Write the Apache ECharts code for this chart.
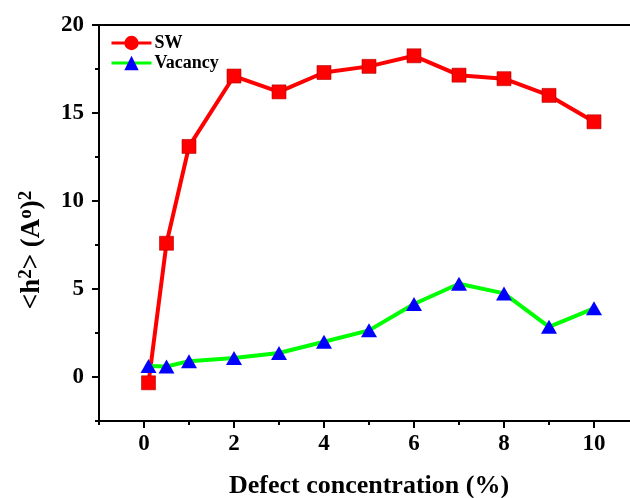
<!DOCTYPE html>
<html>
<head>
<meta charset="utf-8">
<script src="https://cdn.jsdelivr.net/npm/echarts@6/dist/echarts.min.js"></script>
<style>
  html, body { margin: 0; padding: 0; background: #ffffff; }
  #chart { width: 630px; height: 498px; }
</style>
</head>
<body>
<div id="chart"></div>
<script>
// Defect concentration (%) on the x axis
const concentration = [0.1, 0.5, 1, 2, 3, 4, 5, 6, 7, 8, 9, 10];
// Mean square height <h^2> for Stone-Wales defects
const swValues = [-0.33, 7.6, 13.1, 17.1, 16.2, 17.3, 17.65, 18.25, 17.15, 16.95, 16.0, 14.5];
// Mean square height <h^2> for vacancy defects
const vacancyValues = [0.62, 0.6, 0.9, 1.08, 1.36, 2.0, 2.65, 4.15, 5.3, 4.75, 2.85, 3.9];

// Tick positions
const xMajorTicks = [0, 2, 4, 6, 8, 10];
const xMinorTicks = [-1, 1, 3, 5, 7, 9];
const yMajorTicks = [0, 5, 10, 15, 20];
const yMinorTicks = [-2.5, 2.5, 7.5, 12.5, 17.5];

const serif = '"Liberation Serif", "Times New Roman", serif';

const chart = echarts.init(document.getElementById('chart'), null, { renderer: 'canvas' });

const axisBase = {
  type: 'value',
  gridIndex: 0,
  splitLine: { show: false },
  axisLine: { show: true, onZero: false, lineStyle: { color: '#000', width: 2 } }
};

const option = {
  backgroundColor: '#ffffff',
  animation: false,
  grid: { left: 99, right: -9, top: 25, bottom: 77, outerBoundsMode: 'none', containLabel: false },
  legend: {
    orient: 'vertical',
    left: 110,
    top: 34,
    padding: 0,
    itemWidth: 40,
    itemHeight: 18,
    itemGap: 2,
    lineStyle: { width: 3 },
    itemStyle: { borderWidth: 0 },
    textStyle: { fontFamily: serif, fontWeight: 'bold', fontSize: 18, color: '#000', padding: [0, 0, 0, -2] },
    data: ['SW', 'Vacancy']
  },
  xAxis: [
    Object.assign({}, axisBase, {
      position: 'bottom', min: -1, max: 11,
      axisTick: { show: true, customValues: xMajorTicks, length: 7, lineStyle: { color: '#000', width: 2 } },
      axisLabel: { customValues: xMajorTicks, margin: 12, fontFamily: serif, fontWeight: 'bold', fontSize: 23, color: '#000' },
      name: 'Defect concentration (%)',
      nameLocation: 'middle',
      nameGap: 52,
      nameTextStyle: { fontFamily: serif, fontWeight: 'bold', fontSize: 26, color: '#000' }
    }),
    Object.assign({}, axisBase, {
      position: 'bottom', min: -1, max: 11,
      axisLine: { show: false, onZero: false },
      axisTick: { show: true, customValues: xMinorTicks, length: 4, lineStyle: { color: '#000', width: 2 } },
      axisLabel: { show: false }
    }),
    Object.assign({}, axisBase, {
      position: 'top', min: -1, max: 11,
      axisTick: { show: false },
      axisLabel: { show: false }
    })
  ],
  yAxis: [
    Object.assign({}, axisBase, {
      position: 'left', min: -2.5, max: 20,
      axisTick: { show: true, customValues: yMajorTicks, length: 7, lineStyle: { color: '#000', width: 2 } },
      axisLabel: { customValues: yMajorTicks, margin: 15, fontFamily: serif, fontWeight: 'bold', fontSize: 23, color: '#000' }
    }),
    Object.assign({}, axisBase, {
      position: 'left', min: -2.5, max: 20,
      axisLine: { show: false, onZero: false },
      axisTick: { show: true, customValues: yMinorTicks, length: 4, lineStyle: { color: '#000', width: 2 } },
      axisLabel: { show: false }
    })
  ],
  graphic: [{
    type: 'text',
    x: 32,
    y: 250,
    rotation: Math.PI / 2,
    style: {
      text: '<h{sup|2}> (A{sup|o}){sup|2}',
      fontFamily: serif,
      fontWeight: 'bold',
      fontSize: 27,
      fill: '#000',
      align: 'center',
      verticalAlign: 'middle',
      rich: {
        sup: { fontFamily: serif, fontWeight: 'bold', fontSize: 19, fill: '#000', verticalAlign: 'top', padding: [0, 0, 12, 0] }
      }
    }
  }],
  series: [
    {
      name: 'SW',
      type: 'line',
      xAxisIndex: 0,
      yAxisIndex: 0,
      symbol: 'circle',
      symbolSize: 14,
      data: concentration.map((x, i) => ({ value: [x, swValues[i]], symbol: 'rect' })),
      lineStyle: { color: '#ff0000', width: 4 },
      itemStyle: { color: '#ff0000', borderColor: '#b00000', borderWidth: 0.6 },
      z: 2
    },
    {
      name: 'Vacancy',
      type: 'line',
      xAxisIndex: 0,
      yAxisIndex: 0,
      symbol: 'triangle',
      symbolSize: [16, 14],
      data: concentration.map((x, i) => [x, vacancyValues[i]]),
      lineStyle: { color: '#00ff00', width: 4 },
      itemStyle: { color: '#0000ff' },
      z: 3
    }
  ]
};

chart.setOption(option);
</script>
</body>
</html>
